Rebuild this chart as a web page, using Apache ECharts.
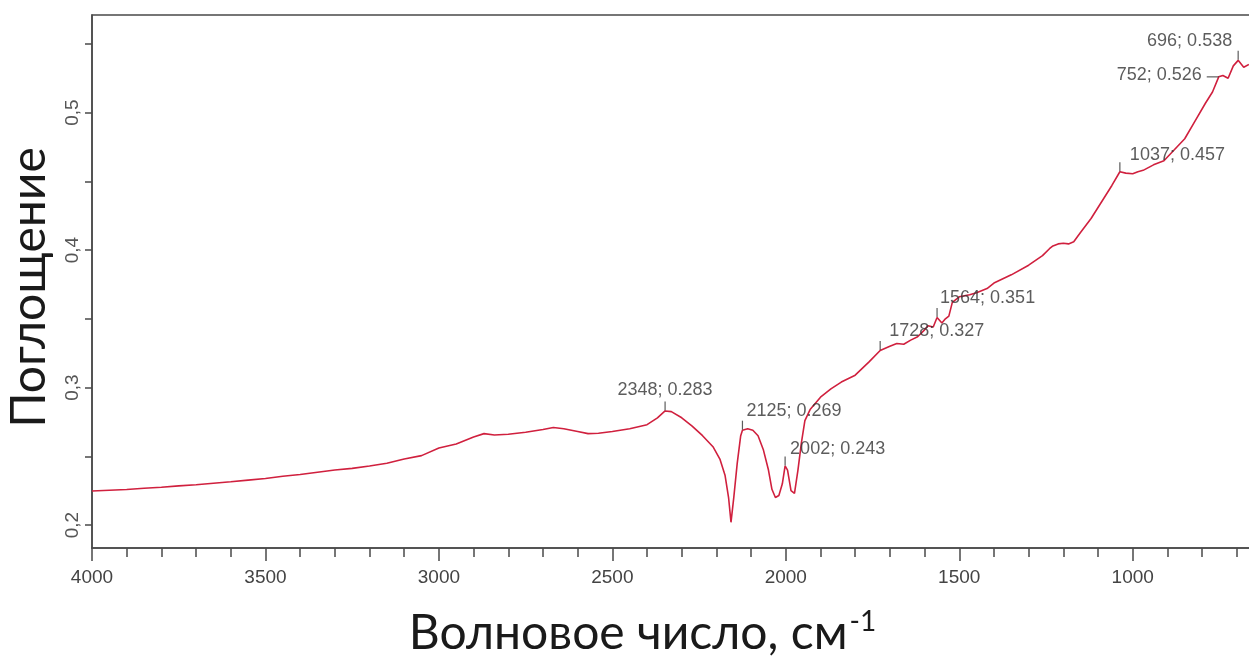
<!DOCTYPE html>
<html>
<head>
<meta charset="utf-8">
<script src="https://cdn.jsdelivr.net/npm/echarts@6/dist/echarts.min.js"></script>
<style>
html,body{margin:0;padding:0;background:#fff;}
#chart{width:1249px;height:656px;}
</style>
</head>
<body>
<div id="chart"></div>
<script>
// Spectrum: wavenumber (cm^-1) and absorbance
const wavenumbers = [4000,3950,3900,3850,3800,3750,3700,3650,3600,3550,3500,3450,3400,3350,3300,3250,3200,3150,3100,3050,3000,2950,2900,2870,2840,2800,2750,2700,2670,2640,2600,2570,2540,2500,2450,2400,2370,2348,2330,2300,2270,2240,2210,2190,2175,2165,2158,2150,2140,2130,2125,2110,2095,2080,2065,2050,2040,2030,2020,2010,2002,1995,1985,1975,1965,1955,1945,1930,1900,1870,1840,1800,1760,1728,1700,1680,1660,1640,1620,1600,1590,1575,1564,1550,1540,1530,1520,1500,1470,1450,1420,1400,1350,1300,1260,1240,1230,1215,1200,1185,1170,1150,1120,1090,1060,1037,1020,1000,985,970,955,940,910,880,850,820,790,770,752,740,725,710,696,680,665];
const absorbance  = [0.2248,0.2253,0.2258,0.2268,0.2275,0.2285,0.2293,0.2304,0.2315,0.2327,0.2338,0.2355,0.2368,0.2384,0.2400,0.2412,0.2430,0.2450,0.2480,0.2505,0.2560,0.2590,0.2640,0.2665,0.2655,0.2660,0.2675,0.2695,0.2710,0.2700,0.2680,0.2665,0.2668,0.2680,0.2700,0.2730,0.2780,0.2830,0.2825,0.2780,0.2720,0.2650,0.2570,0.2480,0.2360,0.2200,0.2020,0.2200,0.2450,0.2650,0.2690,0.2700,0.2690,0.2650,0.2550,0.2400,0.2260,0.2200,0.2215,0.2300,0.2430,0.2400,0.2250,0.2230,0.2400,0.2600,0.2760,0.2840,0.2930,0.2990,0.3040,0.3090,0.3187,0.3270,0.3300,0.3320,0.3315,0.3345,0.3370,0.3420,0.3450,0.3440,0.3510,0.3470,0.3500,0.3520,0.3620,0.3660,0.3675,0.3690,0.3720,0.3760,0.3820,0.3890,0.3960,0.4010,0.4030,0.4045,0.4050,0.4045,0.4060,0.4130,0.4230,0.4350,0.4470,0.4570,0.4560,0.4555,0.4570,0.4580,0.4600,0.4620,0.4650,0.4730,0.4810,0.4940,0.5070,0.5150,0.5260,0.5270,0.5250,0.5340,0.5380,0.5330,0.5350];

// Annotated peaks
const peakWavenumbers = [2348, 2125, 2002, 1728, 1564, 1037, 752, 696];
const peakAbsorbance  = [0.283, 0.269, 0.243, 0.327, 0.351, 0.457, 0.526, 0.538];

// Axis ticks / labels
const xLabelValues = [4000, 3500, 3000, 2500, 2000, 1500, 1000];
const xMinorTickValues = [4000,3900,3800,3700,3600,3500,3400,3300,3200,3100,3000,2900,2800,2700,2600,2500,2400,2300,2200,2100,2000,1900,1800,1700,1600,1500,1400,1300,1200,1100,1000,900,800,700];
const yLabelValues = [0.2, 0.3, 0.4, 0.5];
const yTickValues = [0.2, 0.25, 0.3, 0.35, 0.4, 0.45, 0.5, 0.55];

const yTitle = 'Поглощение';
const xTitle = 'Волновое число, см';

const spectrum = wavenumbers.map((w, i) => [w, absorbance[i]]);

// label placement per peak (style only)
const labelPlacement = [
  {align:'center', offset:[0,-21]},
  {align:'left',   offset:[4,-19]},
  {align:'left',   offset:[5,-17]},
  {align:'left',   offset:[9,-19]},
  {align:'left',   offset:[3,-19]},
  {align:'left',   offset:[10,-17]},
  {align:'right',  offset:[-11,-2]},
  {align:'right',  offset:[-6,-19]}
];
const peaks = peakWavenumbers.map((w, i) => ({
  value: [w, peakAbsorbance[i]],
  symbol: 'rect',
  symbolSize: i === 6 ? [12, 1.2] : [1.2, 9],
  symbolOffset: i === 6 ? [-6, 0] : [0, -5],
  label: {
    show: true,
    position: 'inside',
    align: labelPlacement[i].align,
    verticalAlign: 'middle',
    offset: [labelPlacement[i].offset[0], labelPlacement[i].offset[1] + (i === 6 ? 0 : 5)],
    formatter: w + '; ' + peakAbsorbance[i].toFixed(3)
  }
}));

const axisColor = '#4a4a4a';
const chart = echarts.init(document.getElementById('chart'), null, {renderer: 'canvas'});
chart.setOption({
  animation: false,
  backgroundColor: '#ffffff',
  grid: {left: 92, right: -2, top: 15, bottom: 108, show: true, borderColor: axisColor, borderWidth: 1.5, backgroundColor: 'transparent',
    containLabel: false, outerBoundsMode: 'none'},
  xAxis: [{
    type: 'value', inverse: true, min: 659, max: 4000,
    position: 'bottom',
    axisLine: {show: true, lineStyle: {color: axisColor, width: 1.5}},
    axisTick: {show: true, length: 13, lineStyle: {color: axisColor, width: 1.5}, customValues: xLabelValues},
    axisLabel: {show: true, customValues: xLabelValues, margin: 20, color: '#444', fontSize: 19, fontFamily: 'Liberation Sans',
      formatter: v => String(v)},
    splitLine: {show: false},
    name: xTitle + '{sup|-1}',
    nameLocation: 'middle',
    nameGap: 60,
    nameTextStyle: {fontFamily: 'Lato', fontSize: 48, color: '#1a1a1a', padding: [0, 58, 0, 0],
      rich: {sup: {fontFamily: 'Lato', fontSize: 28, color: '#1a1a1a', verticalAlign: 'top', padding: [0,0,24,2]}}}
  }, {
    type: 'value', inverse: true, min: 659, max: 4000,
    position: 'bottom',
    axisLine: {show: false},
    axisTick: {show: true, length: 9, lineStyle: {color: axisColor, width: 1.5}, customValues: xMinorTickValues},
    axisLabel: {show: false},
    splitLine: {show: false}
  }],
  yAxis: {
    type: 'value', min: 0.1833, max: 0.571,
    axisLine: {show: true, lineStyle: {color: axisColor, width: 1.5}},
    axisTick: {show: true, length: 7, lineStyle: {color: axisColor, width: 1.5}, customValues: yTickValues},
    axisLabel: {show: true, customValues: yLabelValues, rotate: 90, margin: 10, color: '#555', fontSize: 19, fontFamily: 'Liberation Sans',
      formatter: v => String(Math.round(v * 10) / 10).replace('.', ',')},
    splitLine: {show: false},
    name: yTitle,
    nameLocation: 'middle',
    nameRotate: 90,
    nameGap: 38,
    nameTextStyle: {fontFamily: 'Lato', fontSize: 48, color: '#1a1a1a', padding: [0, 12, 0, 0]}
  },
  series: [{
    type: 'line',
    data: spectrum,
    showSymbol: false,
    symbol: 'none',
    lineStyle: {color: '#d0203e', width: 1.6},
    clip: true,
    z: 3
  }, {
    type: 'scatter',
    data: peaks,
    itemStyle: {color: '#333'},
    label: {color: '#333', fontSize: 18, fontFamily: 'Liberation Sans'},
    z: 4
  }]
});
</script>
</body>
</html>
